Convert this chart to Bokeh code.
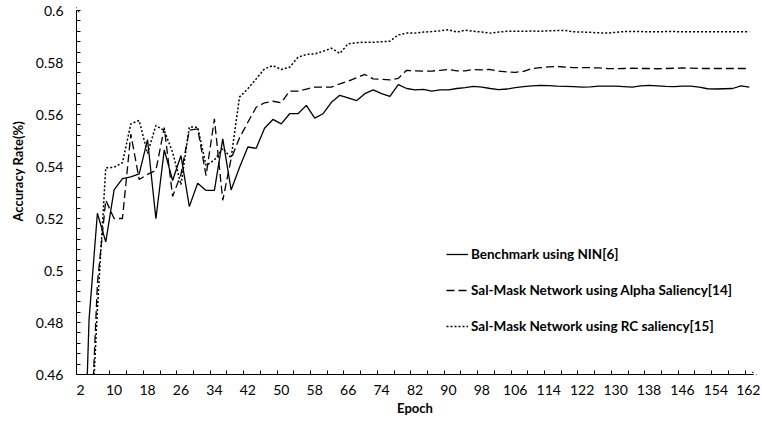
from bokeh.plotting import figure
from bokeh.models import (Range1d, FixedTicker, Legend, LegendItem, Title,
                          Arrow, OpenHead)
from bokeh.embed import file_html
from bokeh.resources import INLINE

# ---------------- data ----------------
epochs = list(range(2, 163, 2))

benchmark = [
    0.380, 0.481, 0.522, 0.511, 0.531, 0.5353, 0.536, 0.5372, 0.5503, 0.5199,
    0.5464, 0.5346, 0.5442, 0.5246, 0.5336, 0.5308, 0.5308, 0.5506, 0.531, 0.5396,
    0.5475, 0.547, 0.5547, 0.5581, 0.5564, 0.5603, 0.5603, 0.5635, 0.5586, 0.5603,
    0.5647, 0.5674, 0.5664, 0.5653, 0.568, 0.5695, 0.568, 0.567, 0.5715, 0.570,
    0.5695, 0.5697, 0.569, 0.5695, 0.5695, 0.570, 0.5703, 0.5708, 0.5705, 0.570,
    0.5696, 0.5698, 0.5703, 0.5707, 0.571, 0.5712, 0.5711, 0.5709, 0.5708, 0.5707,
    0.5705, 0.5706, 0.5709, 0.5709, 0.5709, 0.5707, 0.5705, 0.571, 0.5712, 0.571,
    0.5708, 0.5707, 0.5709, 0.5709, 0.5705, 0.5699, 0.5698, 0.5699, 0.570, 0.571,
    0.5705,
]

alpha_saliency = [
    0.380, 0.420, 0.495, 0.527, 0.520, 0.520, 0.5525, 0.535, 0.537, 0.5385,
    0.555, 0.5285, 0.537, 0.554, 0.5545, 0.5365, 0.5583, 0.527, 0.543, 0.551,
    0.557, 0.5628, 0.5645, 0.5651, 0.5645, 0.569, 0.569, 0.5698, 0.5705, 0.5705,
    0.5705, 0.5718, 0.5728, 0.5741, 0.5754, 0.5737, 0.5735, 0.5733, 0.5739, 0.577,
    0.5768, 0.5767, 0.5767, 0.577, 0.5773, 0.5768, 0.5768, 0.5773, 0.5772, 0.5773,
    0.5767, 0.5764, 0.5762, 0.5766, 0.5777, 0.578, 0.5783, 0.5785, 0.5782, 0.578,
    0.578, 0.578, 0.5779, 0.5777, 0.5776, 0.5777, 0.5778, 0.5777, 0.5777, 0.5776,
    0.5777, 0.5778, 0.5779, 0.5778, 0.5777, 0.5777, 0.5777, 0.5777, 0.5777, 0.5777,
    0.5777,
]

rc_saliency = [
    0.380, 0.420, 0.485, 0.5395, 0.5397, 0.5415, 0.5564, 0.5577, 0.545, 0.5558,
    0.5538, 0.5455, 0.533, 0.5552, 0.5551, 0.5404, 0.5425, 0.547, 0.5433, 0.5667,
    0.5699, 0.5737, 0.5776, 0.5788, 0.5773, 0.5782, 0.582, 0.5831, 0.5833, 0.5843,
    0.5855, 0.5835, 0.5872, 0.5876, 0.5878, 0.5878, 0.588, 0.5882, 0.5906, 0.5913,
    0.5913, 0.5917, 0.5919, 0.5922, 0.5926, 0.5917, 0.5924, 0.592, 0.5917, 0.5913,
    0.5917, 0.592, 0.592, 0.592, 0.5921, 0.592, 0.5922, 0.5923, 0.5923, 0.5918,
    0.5917, 0.5916, 0.5914, 0.5913, 0.5916, 0.5919, 0.5919, 0.5919, 0.5918, 0.5918,
    0.5919, 0.5919, 0.5918, 0.5918, 0.5918, 0.5918, 0.5918, 0.5918, 0.5918, 0.5918,
    0.5918,
]

series_labels = [
    "Benchmark using NIN[6]",
    "Sal-Mask Network using Alpha Saliency[14]",
    "Sal-Mask Network using RC saliency[15]",
]

x_tick_values = [2, 10, 18, 26, 34, 42, 50, 58, 66, 74, 82, 90, 98, 106,
                 114, 122, 130, 138, 146, 154, 162]
x_minor_tick_values = list(range(1, 162, 4))
y_tick_values = [0.46, 0.48, 0.5, 0.52, 0.54, 0.56, 0.58, 0.6]
y_tick_labels = ["0.46", "0.48", "0.5", "0.52", "0.54", "0.56", "0.58", "0.6"]
y_minor_tick_values = [0.464, 0.468, 0.472, 0.476, 0.484, 0.488, 0.492, 0.496,
                       0.504, 0.508, 0.512, 0.516, 0.524, 0.528, 0.532, 0.536,
                       0.544, 0.548, 0.552, 0.556, 0.564, 0.568, 0.572, 0.576,
                       0.584, 0.588, 0.592, 0.596]

x_lo, x_hi = 1, 163
y_lo, y_hi = 0.46, 0.6

FONT = "Lato"

# ---------------- figure ----------------
p = figure(width=760, height=425,
           x_range=Range1d(x_lo, x_hi), y_range=Range1d(y_lo, y_hi),
           output_backend="svg", toolbar_location=None,
           min_border_left=75, min_border_right=7,
           min_border_top=10, min_border_bottom=51)
p.grid.visible = False
p.outline_line_color = None
p.background_fill_color = "white"

r1 = p.line(epochs, benchmark, line_color="black", line_width=1.3)
r2 = p.line(epochs, alpha_saliency, line_color="black", line_width=1.3,
            line_dash="8 4")
r3 = p.line(epochs, rc_saliency, line_color="black", line_width=1.5,
            line_dash="2 2")

# x axis
xa = p.xaxis[0]
xa.ticker = FixedTicker(ticks=x_tick_values, minor_ticks=x_minor_tick_values)
xa.major_tick_in = 0
xa.major_tick_out = 0
xa.minor_tick_in = 4
xa.minor_tick_out = 0
xa.axis_line_color = "black"
xa.major_label_text_font = FONT
xa.major_label_text_font_size = "14px"
xa.major_label_text_color = "black"
xa.major_label_standoff = 10
xa.axis_label = "Epoch"
xa.axis_label_text_font = FONT
xa.axis_label_text_font_style = "bold"
xa.axis_label_text_font_size = "13px"
xa.axis_label_text_color = "black"
xa.axis_label_standoff = 2

# y axis
ya = p.yaxis[0]
ya.ticker = FixedTicker(ticks=y_tick_values, minor_ticks=y_minor_tick_values)
ya.major_label_overrides = {v: s for v, s in zip(y_tick_values, y_tick_labels)}
ya.major_tick_in = 4
ya.major_tick_out = 0
ya.minor_tick_in = 4
ya.minor_tick_out = 0
ya.axis_line_color = "black"
ya.major_label_text_font = FONT
ya.major_label_text_font_size = "14px"
ya.major_label_text_color = "black"
ya.major_label_standoff = 13

# y title, on the left, shifted up like the reference
p.add_layout(Title(text="Accuracy Rate(%)", align="left", offset=153,
                   standoff=14, text_font=FONT, text_font_style="bold",
                   text_font_size="13px", text_color="black"), "left")

# axis end arrows
p.add_layout(Arrow(x_start=x_lo, y_start=y_hi - 0.003, x_end=x_lo, y_end=y_hi + 0.0012,
                   line_color="black", line_width=1,
                   end=OpenHead(size=5, line_width=1, line_color="black")))
p.add_layout(Arrow(x_start=x_hi - 3, y_start=y_lo, x_end=x_hi + 0.8, y_end=y_lo,
                   line_color="black", line_width=1,
                   end=OpenHead(size=5, line_width=1, line_color="black")))

legend = Legend(items=[LegendItem(label=series_labels[0], renderers=[r1]),
                       LegendItem(label=series_labels[1], renderers=[r2]),
                       LegendItem(label=series_labels[2], renderers=[r3])],
                location=(370, 38), orientation="vertical",
                glyph_width=22, glyph_height=20, label_height=20,
                spacing=16, padding=0, margin=0, label_standoff=3,
                border_line_alpha=0, background_fill_alpha=0,
                label_text_font=FONT, label_text_font_style="bold",
                label_text_font_size="13.5px", label_text_color="black")
p.add_layout(legend)

open("out.html", "w").write(file_html(p, INLINE))
